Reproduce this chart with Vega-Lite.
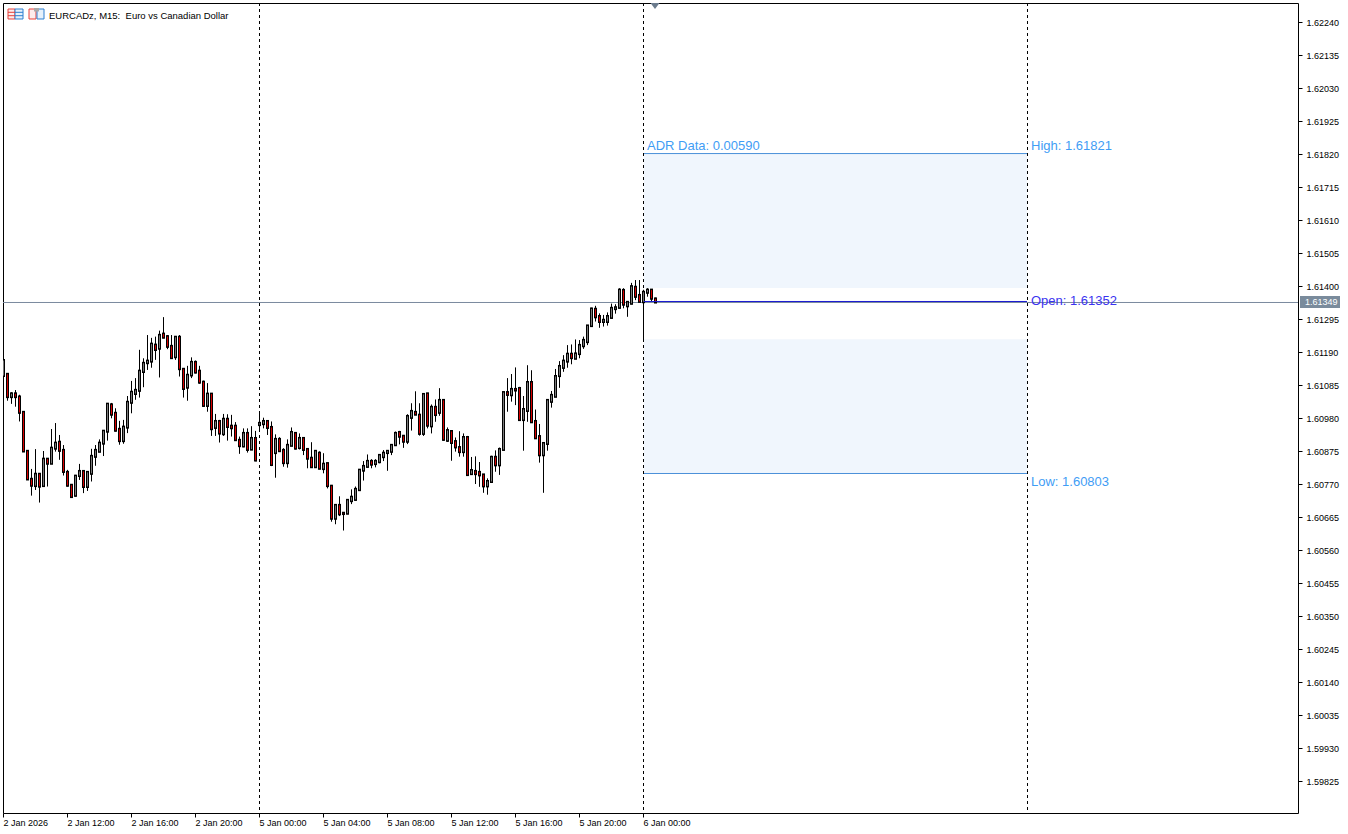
{"$schema":"https://vega.github.io/schema/vega-lite/v6.json","width":1295,"height":810,"autosize":{"type":"none"},"padding":{"left":3,"top":3,"right":50,"bottom":21},"background":"white","config":{"view":{"stroke":"#000000","strokeWidth":1},"font":"Liberation Sans"},"title":{"text":"EURCADz, M15:\u00a0\u00a0Euro vs Canadian Dollar","anchor":"start","frame":"group","dx":46,"dy":26,"offset":0,"baseline":"alphabetic","font":"Liberation Sans","fontSize":9.5,"fontWeight":"normal","color":"#000000"},"data":{"values":[{}]},"datasets":{"candles":[
{"i":0,"o":1.61115,"h":1.61163,"l":1.61115,"c":1.61163},
{"i":1,"o":1.61119,"h":1.61119,"l":1.61035,"c":1.61048},
{"i":2,"o":1.61048,"h":1.61062,"l":1.61025,"c":1.61057},
{"i":3,"o":1.61057,"h":1.61069,"l":1.61016,"c":1.61048},
{"i":4,"o":1.61047,"h":1.61054,"l":1.60969,"c":1.60998},
{"i":5,"o":1.60998,"h":1.60998,"l":1.60873,"c":1.60875},
{"i":6,"o":1.60874,"h":1.60875,"l":1.60783,"c":1.60786},
{"i":7,"o":1.60785,"h":1.60818,"l":1.60733,"c":1.60766},
{"i":8,"o":1.60765,"h":1.60881,"l":1.60751,"c":1.60801},
{"i":9,"o":1.60801,"h":1.60802,"l":1.60711,"c":1.60763},
{"i":10,"o":1.60765,"h":1.60875,"l":1.60762,"c":1.60849},
{"i":11,"o":1.60849,"h":1.6085,"l":1.60762,"c":1.60836},
{"i":12,"o":1.60836,"h":1.60945,"l":1.60836,"c":1.60884},
{"i":13,"o":1.60884,"h":1.60964,"l":1.60873,"c":1.609},
{"i":14,"o":1.60903,"h":1.60926,"l":1.60847,"c":1.60877},
{"i":15,"o":1.60877,"h":1.60894,"l":1.60797,"c":1.6081},
{"i":16,"o":1.60807,"h":1.60815,"l":1.60762,"c":1.60766},
{"i":17,"o":1.60766,"h":1.6077,"l":1.60726,"c":1.6073},
{"i":18,"o":1.60734,"h":1.60799,"l":1.6073,"c":1.60795},
{"i":19,"o":1.60797,"h":1.60834,"l":1.60783,"c":1.6081},
{"i":20,"o":1.6081,"h":1.60811,"l":1.60741,"c":1.60762},
{"i":21,"o":1.60762,"h":1.60811,"l":1.60748,"c":1.60807},
{"i":22,"o":1.60804,"h":1.60882,"l":1.60778,"c":1.60858},
{"i":23,"o":1.60858,"h":1.60894,"l":1.60828,"c":1.60877},
{"i":24,"o":1.60874,"h":1.60912,"l":1.60873,"c":1.609},
{"i":25,"o":1.609,"h":1.60939,"l":1.60859,"c":1.60938},
{"i":26,"o":1.60938,"h":1.61026,"l":1.60908,"c":1.61024},
{"i":27,"o":1.61022,"h":1.61028,"l":1.60979,"c":1.60992},
{"i":28,"o":1.60995,"h":1.61011,"l":1.60937,"c":1.60941},
{"i":29,"o":1.60944,"h":1.60971,"l":1.60895,"c":1.60908},
{"i":30,"o":1.60908,"h":1.60974,"l":1.60898,"c":1.60951},
{"i":31,"o":1.60951,"h":1.6105,"l":1.60932,"c":1.6103},
{"i":32,"o":1.6103,"h":1.61098,"l":1.60995,"c":1.61062},
{"i":33,"o":1.61058,"h":1.61107,"l":1.61038,"c":1.61068},
{"i":34,"o":1.61068,"h":1.61197,"l":1.61045,"c":1.61129},
{"i":35,"o":1.61128,"h":1.6117,"l":1.61078,"c":1.61154},
{"i":36,"o":1.61156,"h":1.61244,"l":1.61133,"c":1.61161},
{"i":37,"o":1.61161,"h":1.61235,"l":1.6114,"c":1.61215},
{"i":38,"o":1.61212,"h":1.61239,"l":1.61165,"c":1.61198},
{"i":39,"o":1.61202,"h":1.61258,"l":1.61109,"c":1.61243},
{"i":40,"o":1.61247,"h":1.61301,"l":1.61234,"c":1.61237},
{"i":41,"o":1.61239,"h":1.61244,"l":1.61199,"c":1.61208},
{"i":42,"o":1.61208,"h":1.61244,"l":1.61169,"c":1.61172},
{"i":43,"o":1.61175,"h":1.61241,"l":1.61165,"c":1.61237},
{"i":44,"o":1.61237,"h":1.61244,"l":1.61112,"c":1.61137},
{"i":45,"o":1.61135,"h":1.61138,"l":1.61045,"c":1.61074},
{"i":46,"o":1.61078,"h":1.61146,"l":1.61035,"c":1.61116},
{"i":47,"o":1.61117,"h":1.61173,"l":1.61107,"c":1.61157},
{"i":48,"o":1.61157,"h":1.61163,"l":1.61122,"c":1.61126},
{"i":49,"o":1.61129,"h":1.61146,"l":1.61089,"c":1.61094},
{"i":50,"o":1.61094,"h":1.61099,"l":1.61016,"c":1.6102},
{"i":51,"o":1.6102,"h":1.61091,"l":1.61,"c":1.61056},
{"i":52,"o":1.61056,"h":1.61056,"l":1.60923,"c":1.60946},
{"i":53,"o":1.6095,"h":1.60993,"l":1.60923,"c":1.60969},
{"i":54,"o":1.60969,"h":1.60974,"l":1.60902,"c":1.60932},
{"i":55,"o":1.6093,"h":1.60993,"l":1.60923,"c":1.60976},
{"i":56,"o":1.60976,"h":1.60992,"l":1.60908,"c":1.60953},
{"i":57,"o":1.60954,"h":1.6099,"l":1.60921,"c":1.60949},
{"i":58,"o":1.60954,"h":1.60967,"l":1.6091,"c":1.60911},
{"i":59,"o":1.60909,"h":1.60921,"l":1.60866,"c":1.60892},
{"i":60,"o":1.60891,"h":1.60947,"l":1.60887,"c":1.60931},
{"i":61,"o":1.60931,"h":1.60947,"l":1.6087,"c":1.6088},
{"i":62,"o":1.60881,"h":1.60954,"l":1.60878,"c":1.60915},
{"i":63,"o":1.60915,"h":1.60939,"l":1.60843,"c":1.60846},
{"i":64,"o":1.60959,"h":1.61,"l":1.60937,"c":1.60963},
{"i":65,"o":1.60962,"h":1.60981,"l":1.60947,"c":1.60969},
{"i":66,"o":1.60969,"h":1.60969,"l":1.60926,"c":1.6095},
{"i":67,"o":1.6095,"h":1.60969,"l":1.60827,"c":1.60832},
{"i":68,"o":1.6087,"h":1.60928,"l":1.6079,"c":1.60912},
{"i":69,"o":1.60912,"h":1.60919,"l":1.60873,"c":1.60876},
{"i":70,"o":1.60877,"h":1.60884,"l":1.60825,"c":1.60838},
{"i":71,"o":1.60838,"h":1.60912,"l":1.60822,"c":1.60893},
{"i":72,"o":1.60893,"h":1.6095,"l":1.60891,"c":1.60934},
{"i":73,"o":1.60931,"h":1.60934,"l":1.6088,"c":1.60884},
{"i":74,"o":1.60886,"h":1.60931,"l":1.6088,"c":1.60915},
{"i":75,"o":1.60915,"h":1.60919,"l":1.60862,"c":1.6088},
{"i":76,"o":1.6088,"h":1.60884,"l":1.6082,"c":1.60852},
{"i":77,"o":1.60852,"h":1.60903,"l":1.60822,"c":1.60825},
{"i":78,"o":1.60825,"h":1.60877,"l":1.60822,"c":1.60874},
{"i":79,"o":1.60868,"h":1.60874,"l":1.60817,"c":1.6082},
{"i":80,"o":1.60819,"h":1.60868,"l":1.60804,"c":1.60833},
{"i":81,"o":1.60835,"h":1.60837,"l":1.60756,"c":1.60765},
{"i":82,"o":1.60763,"h":1.60767,"l":1.6065,"c":1.60661},
{"i":83,"o":1.60661,"h":1.60702,"l":1.60642,"c":1.60702},
{"i":84,"o":1.60702,"h":1.60731,"l":1.60668,"c":1.60675},
{"i":85,"o":1.60677,"h":1.60679,"l":1.60622,"c":1.60676},
{"i":86,"o":1.60677,"h":1.60721,"l":1.60674,"c":1.60718},
{"i":87,"o":1.60717,"h":1.60753,"l":1.60706,"c":1.60728},
{"i":88,"o":1.60721,"h":1.60762,"l":1.60717,"c":1.60753},
{"i":89,"o":1.60752,"h":1.60817,"l":1.60749,"c":1.60814},
{"i":90,"o":1.60814,"h":1.60843,"l":1.60781,"c":1.60826},
{"i":91,"o":1.60826,"h":1.60864,"l":1.60823,"c":1.60842},
{"i":92,"o":1.60842,"h":1.60849,"l":1.6082,"c":1.60833},
{"i":93,"o":1.60835,"h":1.60849,"l":1.60823,"c":1.60842},
{"i":94,"o":1.60841,"h":1.60864,"l":1.60836,"c":1.60861},
{"i":95,"o":1.60857,"h":1.60878,"l":1.60843,"c":1.60868},
{"i":96,"o":1.6087,"h":1.60876,"l":1.60812,"c":1.60874},
{"i":97,"o":1.60874,"h":1.60896,"l":1.60862,"c":1.60893},
{"i":98,"o":1.60895,"h":1.60937,"l":1.60892,"c":1.60931},
{"i":99,"o":1.60934,"h":1.60939,"l":1.60896,"c":1.60922},
{"i":100,"o":1.60922,"h":1.60923,"l":1.60885,"c":1.60906},
{"i":101,"o":1.60906,"h":1.60992,"l":1.60897,"c":1.60985},
{"i":102,"o":1.60982,"h":1.61027,"l":1.6094,"c":1.61001},
{"i":103,"o":1.60998,"h":1.61065,"l":1.6099,"c":1.60992},
{"i":104,"o":1.60989,"h":1.61027,"l":1.60924,"c":1.60931},
{"i":105,"o":1.60931,"h":1.61059,"l":1.60923,"c":1.61055},
{"i":106,"o":1.61057,"h":1.61059,"l":1.60947,"c":1.60957},
{"i":107,"o":1.60955,"h":1.61023,"l":1.60931,"c":1.61014},
{"i":108,"o":1.61014,"h":1.61039,"l":1.60968,"c":1.60991},
{"i":109,"o":1.60998,"h":1.61075,"l":1.60987,"c":1.61036},
{"i":110,"o":1.61036,"h":1.61036,"l":1.60908,"c":1.60912},
{"i":111,"o":1.60909,"h":1.6095,"l":1.60904,"c":1.6094},
{"i":112,"o":1.60937,"h":1.6094,"l":1.60844,"c":1.60902},
{"i":113,"o":1.60905,"h":1.60918,"l":1.60873,"c":1.60888},
{"i":114,"o":1.60886,"h":1.60938,"l":1.60857,"c":1.60873},
{"i":115,"o":1.60873,"h":1.60931,"l":1.60857,"c":1.60918},
{"i":116,"o":1.60918,"h":1.60923,"l":1.60799,"c":1.608},
{"i":117,"o":1.60803,"h":1.60856,"l":1.60802,"c":1.60813},
{"i":118,"o":1.6081,"h":1.60858,"l":1.6077,"c":1.60803},
{"i":119,"o":1.60807,"h":1.6084,"l":1.60761,"c":1.60799},
{"i":120,"o":1.60799,"h":1.608,"l":1.60742,"c":1.60764},
{"i":121,"o":1.60764,"h":1.60788,"l":1.60736,"c":1.60778},
{"i":122,"o":1.60778,"h":1.6086,"l":1.60777,"c":1.60855},
{"i":123,"o":1.60855,"h":1.60877,"l":1.60809,"c":1.60831},
{"i":124,"o":1.60831,"h":1.60886,"l":1.60799,"c":1.6088},
{"i":125,"o":1.6088,"h":1.61063,"l":1.6088,"c":1.61061},
{"i":126,"o":1.61061,"h":1.61107,"l":1.61,"c":1.61055},
{"i":127,"o":1.61054,"h":1.6112,"l":1.61032,"c":1.61071},
{"i":128,"o":1.61071,"h":1.61141,"l":1.61021,"c":1.61069},
{"i":129,"o":1.61074,"h":1.61079,"l":1.60975,"c":1.60975},
{"i":130,"o":1.60975,"h":1.6105,"l":1.60876,"c":1.61007},
{"i":131,"o":1.61004,"h":1.61148,"l":1.60968,"c":1.61093},
{"i":132,"o":1.61093,"h":1.61132,"l":1.60965,"c":1.60968},
{"i":133,"o":1.60969,"h":1.61007,"l":1.60915,"c":1.60917},
{"i":134,"o":1.60921,"h":1.60961,"l":1.60838,"c":1.60863},
{"i":135,"o":1.60863,"h":1.60899,"l":1.60742,"c":1.60899},
{"i":136,"o":1.60899,"h":1.61039,"l":1.60876,"c":1.61036},
{"i":137,"o":1.61033,"h":1.61066,"l":1.61013,"c":1.61052},
{"i":138,"o":1.61049,"h":1.61136,"l":1.61048,"c":1.61112},
{"i":139,"o":1.61115,"h":1.61161,"l":1.61076,"c":1.61144},
{"i":140,"o":1.61141,"h":1.6118,"l":1.61127,"c":1.61161},
{"i":141,"o":1.61161,"h":1.61212,"l":1.6114,"c":1.61183},
{"i":142,"o":1.61183,"h":1.61214,"l":1.61151,"c":1.61172},
{"i":143,"o":1.6117,"h":1.6123,"l":1.61168,"c":1.61184},
{"i":144,"o":1.61185,"h":1.61228,"l":1.6117,"c":1.61211},
{"i":145,"o":1.6121,"h":1.61239,"l":1.612,"c":1.61227},
{"i":146,"o":1.61223,"h":1.61275,"l":1.61212,"c":1.61273},
{"i":147,"o":1.61274,"h":1.61331,"l":1.61273,"c":1.61327},
{"i":148,"o":1.61326,"h":1.61337,"l":1.61287,"c":1.61302},
{"i":149,"o":1.61303,"h":1.61313,"l":1.61267,"c":1.61287},
{"i":150,"o":1.61287,"h":1.61308,"l":1.61271,"c":1.61291},
{"i":151,"o":1.61287,"h":1.61316,"l":1.61274,"c":1.61303},
{"i":152,"o":1.613,"h":1.61344,"l":1.61297,"c":1.61329},
{"i":153,"o":1.61328,"h":1.61342,"l":1.61312,"c":1.61331},
{"i":154,"o":1.61332,"h":1.61393,"l":1.61329,"c":1.61387},
{"i":155,"o":1.61386,"h":1.61393,"l":1.61329,"c":1.61342},
{"i":156,"o":1.61337,"h":1.61352,"l":1.61302,"c":1.61348},
{"i":157,"o":1.61345,"h":1.6141,"l":1.61342,"c":1.61398},
{"i":158,"o":1.61396,"h":1.61419,"l":1.61355,"c":1.61367},
{"i":159,"o":1.6137,"h":1.61419,"l":1.6135,"c":1.61351},
{"i":160,"o":1.6135,"h":1.61388,"l":1.61223,"c":1.6138},
{"i":161,"o":1.6138,"h":1.61393,"l":1.61366,"c":1.61387},
{"i":162,"o":1.61387,"h":1.6139,"l":1.6135,"c":1.61361},
{"i":163,"o":1.61359,"h":1.61363,"l":1.61347,"c":1.61349}
],"separators":[{"i":64},{"i":160},{"i":256}],"boxes":[{"from":160.25,"to":256,"top":1.61821,"bottom":1.61394},{"from":160.25,"to":256,"top":1.61231,"bottom":1.60803}],"levels":[{"from":160.25,"to":256,"price":1.61821},{"from":160.25,"to":256,"price":1.60803}],"notesAbove":[{"i":161,"price":1.61821,"text":"ADR Data: 0.00590"},{"i":257,"price":1.61821,"text":"High: 1.61821"}],"notesBelow":[{"i":257,"price":1.60803,"text":"Low: 1.60803"}]},
"encoding":{"x":{"type":"quantitative","scale":{"domain":[0,323.75],"nice":false,"zero":false,"padding":0},"axis":{"orient":"bottom","title":null,"grid":false,"domain":false,"values":[0,16,32,48,64,80,96,112,128,144,160],"labelExpr":"['2 Jan 2026','2 Jan 12:00','2 Jan 16:00','2 Jan 20:00','5 Jan 00:00','5 Jan 04:00','5 Jan 08:00','5 Jan 12:00','5 Jan 16:00','5 Jan 20:00','6 Jan 00:00'][datum.value/16]","labelAlign":"left","labelFont":"Liberation Sans","labelFontSize":9,"labelColor":"#000000","labelPadding":1,"labelOverlap":false,"labelFlush":false,"tickColor":"#000000","tickSize":4}},"y":{"type":"quantitative","scale":{"domain":[1.597232,1.623005],"nice":false,"zero":false},"axis":{"orient":"right","title":null,"grid":false,"domain":false,"values":[1.59825,1.5993,1.60035,1.6014,1.60245,1.6035,1.60455,1.6056,1.60665,1.6077,1.60875,1.6098,1.61085,1.6119,1.61295,1.614,1.61505,1.6161,1.61715,1.6182,1.61925,1.6203,1.62135,1.6224],"format":".5f","labelFont":"Liberation Sans","labelFontSize":9,"labelColor":"#000000","labelPadding":4,"labelOverlap":false,"labelFlush":false,"tickColor":"#000000","tickSize":4}}},
"layer":[
{"data":{"name":"boxes"},"mark":{"type":"rect","fill":"#f0f6fd"},"encoding":{"x":{"field":"from","type":"quantitative"},"x2":{"field":"to"},"y":{"field":"top","type":"quantitative"},"y2":{"field":"bottom"}}},
{"data":{"name":"levels"},"mark":{"type":"rule","stroke":"#4a90d9","strokeWidth":1,"yOffset":-0.15},"encoding":{"x":{"field":"from","type":"quantitative"},"x2":{"field":"to"},"y":{"field":"price","type":"quantitative"}}},
{"data":{"name":"separators"},"mark":{"type":"rule","stroke":"#000000","strokeWidth":1,"strokeDash":[3,3],"xOffset":0.5},"encoding":{"x":{"field":"i","type":"quantitative"}}},
{"mark":{"type":"rule","stroke":"#7b8a9e","strokeWidth":1,"yOffset":0.46},"encoding":{"x":{"datum":0,"type":"quantitative"},"x2":{"datum":323.75},"y":{"datum":1.61349,"type":"quantitative"}}},
{"data":{"name":"candles"},"mark":{"type":"rule","stroke":"#000000","strokeWidth":1,"clip":true,"xOffset":0.5},"encoding":{"x":{"field":"i","type":"quantitative"},"y":{"field":"h","type":"quantitative"},"y2":{"field":"l"}}},
{"data":{"name":"candles"},"mark":{"type":"rule","stroke":"#000000","strokeWidth":3,"strokeCap":"square","clip":true,"xOffset":0.5},"encoding":{"x":{"field":"i","type":"quantitative"},"y":{"field":"o","type":"quantitative"},"y2":{"field":"c"}}},
{"data":{"name":"candles"},"mark":{"type":"rule","strokeWidth":1,"clip":true,"xOffset":0.5},"encoding":{"x":{"field":"i","type":"quantitative"},"y":{"field":"o","type":"quantitative"},"y2":{"field":"c"},"stroke":{"condition":{"test":"datum.c<datum.o","value":"#d80000"},"value":"#7a7a7a"}}},
{"mark":{"type":"rule","stroke":"#1a1ad0","strokeWidth":1,"yOffset":0.4},"encoding":{"x":{"datum":160.25,"type":"quantitative"},"x2":{"datum":256},"y":{"datum":1.61352,"type":"quantitative"}}},
{"data":{"name":"notesAbove"},"mark":{"type":"text","align":"left","baseline":"middle","dy":-8,"font":"Liberation Sans","fontSize":13,"fill":"#3f9df5"},"encoding":{"x":{"field":"i","type":"quantitative"},"y":{"field":"price","type":"quantitative"},"text":{"field":"text"}}},
{"data":{"name":"notesBelow"},"mark":{"type":"text","align":"left","baseline":"middle","dy":8,"font":"Liberation Sans","fontSize":13,"fill":"#3f9df5"},"encoding":{"x":{"field":"i","type":"quantitative"},"y":{"field":"price","type":"quantitative"},"text":{"field":"text"}}},
{"mark":{"type":"text","align":"left","baseline":"middle","font":"Liberation Sans","fontSize":13,"fill":"#3a33f0"},"encoding":{"x":{"datum":257,"type":"quantitative"},"y":{"datum":1.61352,"type":"quantitative"},"text":{"value":"Open: 1.61352"}}},
{"mark":{"type":"rect","fill":"#7a8b9c","clip":false},"encoding":{"x":{"datum":324.25,"type":"quantitative"},"x2":{"datum":334.25},"y":{"datum":1.61368,"type":"quantitative"},"y2":{"datum":1.6133}}},
{"mark":{"type":"text","align":"left","baseline":"middle","font":"Liberation Sans","fontSize":9,"fill":"#ffffff"},"encoding":{"x":{"datum":325.5,"type":"quantitative"},"y":{"datum":1.61349,"type":"quantitative"},"text":{"value":"1.61349"}}},
{"mark":{"type":"point","shape":"M-0.75,-0.5L0.75,-0.5L0,0.5Z","filled":true,"size":144,"fill":"#6a7a8c","opacity":1,"strokeWidth":0,"clip":true},"encoding":{"x":{"datum":163,"type":"quantitative"},"y":{"datum":1.62291,"type":"quantitative"}}},
{"mark":{"type":"rect","fill":"#fdecec","stroke":"#e8403a","strokeWidth":1},"encoding":{"x":{"datum":1.25,"type":"quantitative"},"x2":{"datum":3},"y":{"datum":1.622814,"type":"quantitative"},"y2":{"datum":1.622496}}},
{"mark":{"type":"rect","fill":"#e6f1fb","stroke":"#2d7fd0","strokeWidth":1},"encoding":{"x":{"datum":3,"type":"quantitative"},"x2":{"datum":5},"y":{"datum":1.622814,"type":"quantitative"},"y2":{"datum":1.622496}}},
{"mark":{"type":"rule","stroke":"#e8403a","strokeWidth":1},"encoding":{"x":{"datum":1.25,"type":"quantitative"},"x2":{"datum":3},"y":{"datum":1.622709,"type":"quantitative"}}},
{"mark":{"type":"rule","stroke":"#e8403a","strokeWidth":1},"encoding":{"x":{"datum":1.25,"type":"quantitative"},"x2":{"datum":3},"y":{"datum":1.622601,"type":"quantitative"}}},
{"mark":{"type":"rule","stroke":"#2d7fd0","strokeWidth":1},"encoding":{"x":{"datum":3,"type":"quantitative"},"x2":{"datum":5},"y":{"datum":1.622709,"type":"quantitative"}}},
{"mark":{"type":"rule","stroke":"#2d7fd0","strokeWidth":1},"encoding":{"x":{"datum":3,"type":"quantitative"},"x2":{"datum":5},"y":{"datum":1.622601,"type":"quantitative"}}},
{"mark":{"type":"rect","fill":"#fdecec","stroke":"#e8403a","strokeWidth":1},"encoding":{"x":{"datum":6.5,"type":"quantitative"},"x2":{"datum":8.25},"y":{"datum":1.622814,"type":"quantitative"},"y2":{"datum":1.622496}}},
{"mark":{"type":"rect","fill":"#e6f1fb","stroke":"#2d7fd0","strokeWidth":1},"encoding":{"x":{"datum":8.5,"type":"quantitative"},"x2":{"datum":10.25},"y":{"datum":1.622814,"type":"quantitative"},"y2":{"datum":1.622496}}},
{"mark":{"type":"rect","fill":"#a8a8a8"},"encoding":{"x":{"datum":7.75,"type":"quantitative"},"x2":{"datum":9},"y":{"datum":1.622846,"type":"quantitative"},"y2":{"datum":1.622735}}}
]}
